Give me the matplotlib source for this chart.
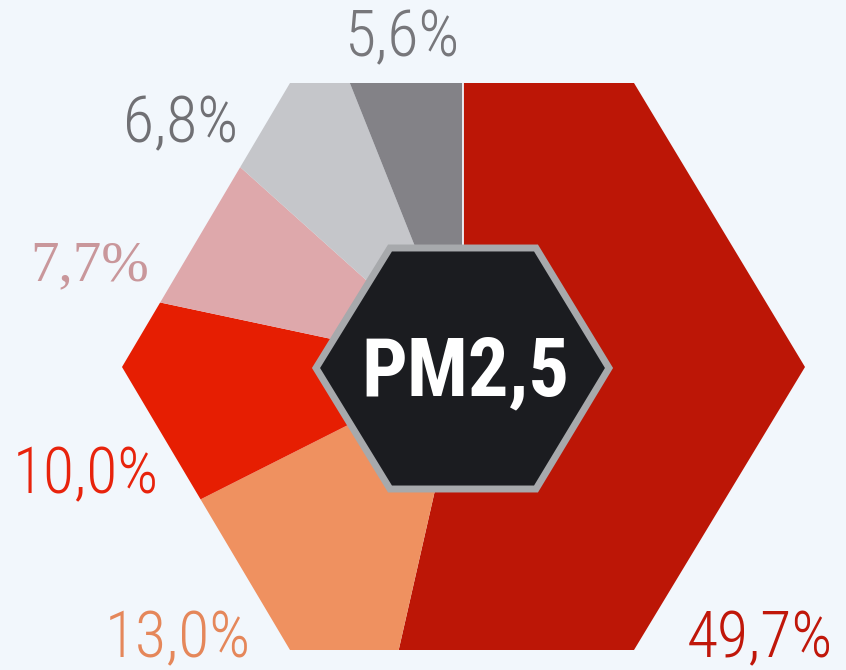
import matplotlib
matplotlib.use('Agg')
import matplotlib.pyplot as plt
from matplotlib.patches import Polygon

# ---- data ----
labels = ['49,7%', '13,0%', '10,0%', '7,7%', '6,8%', '5,6%']
values = [49.7, 13.0, 10.0, 7.7, 6.8, 5.6]
colors = ['#bc1606', '#ef9160', '#e61e02', '#dea8ab', '#c5c6ca', '#838287']
label_colors = ['#c0170a', '#e5875a', '#e8230c', '#c9979b', '#707074', '#77777b']
center_label = 'PM2,5'

# ---- layout (pixel space, y from top) ----
W, H = 846, 670
bg = '#f2f7fc'
label_pos = [(760, 657), (178, 657), (86, 493), (90, 280), (181, 142), (403, 56)]
cx, cy = 463, 367
SANS = ['Roboto Condensed', 'DejaVu Sans Condensed', 'Liberation Sans Narrow', 'DejaVu Sans']


def P(x, y):
    return (x, H - y)


fig = plt.figure(figsize=(W / 100, H / 100), dpi=100)
fig.patch.set_facecolor(bg)
ax = fig.add_axes([0, 0, 1, 1])
ax.set_facecolor(bg)

wedges, _ = ax.pie(values, colors=colors, startangle=90, counterclock=False,
                   center=P(cx, cy), radius=600,
                   wedgeprops=dict(linewidth=0))

outer = Polygon([P(122, 367), P(290, 83), P(634, 83), P(805, 367),
                 P(634, 650), P(290, 650)], closed=True,
                transform=ax.transData, facecolor='none', edgecolor='none')
ax.add_patch(outer)
for w in wedges:
    w.set_clip_on(True)
    w.set_clip_path(outer)

# thin separator at the start of the first slice
sep, = ax.plot([cx, cx], [H - cy, H - 83], color=bg, lw=1.3, zorder=3)
sep.set_clip_path(outer)

inner = Polygon([P(316, 368), P(390, 248), P(536, 248), P(609, 368),
                 P(536, 489), P(390, 489)], closed=True,
                facecolor='#1b1c20', edgecolor='#a7a9ac', linewidth=5,
                joinstyle='miter', zorder=5)
ax.add_patch(inner)

ax.text(cx + 2, H - 395, center_label, ha='center', va='baseline',
        fontsize=58, fontweight='heavy', fontstretch='condensed', color='white',
        family=SANS, zorder=6)

for i, (lab, col, pos) in enumerate(zip(labels, label_colors, label_pos)):
    if lab == '7,7%':
        ax.text(pos[0], H - pos[1], lab, ha='center', va='baseline',
                fontsize=41, color=col, family=['Liberation Serif', 'DejaVu Serif'], zorder=6)
    else:
        ax.text(pos[0], H - pos[1], lab, ha='center', va='baseline',
                fontsize=46, color=col, family=SANS, fontstretch='condensed',
                fontweight='light', zorder=6)

ax.set_xlim(0, W)
ax.set_ylim(0, H)
ax.set_aspect('auto')
ax.axis('off')

fig.savefig('out.png', dpi=100, facecolor=bg)
